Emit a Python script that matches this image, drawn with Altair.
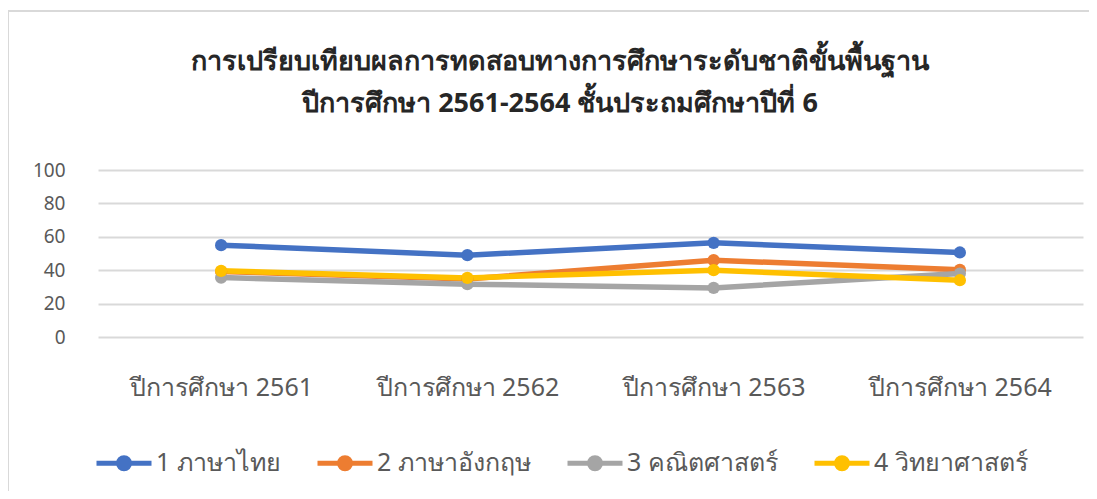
import altair as alt
import pandas as pd

years = ["ปีการศึกษา 2561", "ปีการศึกษา 2562", "ปีการศึกษา 2563", "ปีการศึกษา 2564"]
subjects = ["1 ภาษาไทย", "2 ภาษาอังกฤษ", "3 คณิตศาสตร์", "4 วิทยาศาสตร์"]
thai = [55.0, 49.0, 56.4, 50.6]
english = [39.2, 34.8, 46.0, 40.2]
math = [35.6, 31.6, 29.4, 38.0]
science = [39.6, 35.4, 40.0, 34.0]
colors = ["#4472C4", "#ED7D31", "#A5A5A5", "#FFC000"]
title_lines = ["การเปรียบเทียบผลการทดสอบทางการศึกษาระดับชาติขั้นพื้นฐาน",
               "ปีการศึกษา 2561-2564  ชั้นประถมศึกษาปีที่ 6"]

rows = []
for s, vals in zip(subjects, [thai, english, math, science]):
    for y, v in zip(years, vals):
        rows.append({"year": y, "subject": s, "score": v})
df = pd.DataFrame(rows)

FONT = "Noto Sans"
legend_path = ("M-1,0L1,0"
               "M0.2,0A0.2,0.2,0,1,1,-0.2,0A0.2,0.2,0,1,1,0.2,0Z"
               "M0.1,0A0.1,0.1,0,1,1,-0.1,0A0.1,0.1,0,1,1,0.1,0Z")

one = pd.DataFrame({"a": [0]})
frame_left = alt.Chart(one).mark_rule(color="#d9d9d9", strokeWidth=2).encode(
    x=alt.value(-90), y=alt.value(-159), y2=alt.value(400)
)
frame_top = alt.Chart(one).mark_rule(color="#d9d9d9", strokeWidth=2).encode(
    x=alt.value(-91), x2=alt.value(1100), y=alt.value(-159)
)

def title_text(line, yv):
    return alt.Chart(pd.DataFrame({"t": [line]})).mark_text(
        font=FONT, fontSize=27, fontWeight="bold", color="#262626",
        align="center", baseline="middle",
    ).encode(text="t:N", x=alt.value(462), y=alt.value(yv))

t1 = title_text(title_lines[0], -108)
t2 = title_text(title_lines[1], -66)

lines = alt.Chart(df).mark_line(
    strokeWidth=5.5,
    point=alt.OverlayMarkDef(filled=True, size=150, opacity=1),
).encode(
    x=alt.X("year:N", sort=years, title=None,
            axis=alt.Axis(labelAngle=0, domain=False, ticks=False, labelPadding=38,
                          labelLimit=0, labelFontSize=25, labelColor="#595959",
                          labelFont=FONT)),
    y=alt.Y("score:Q", title=None, scale=alt.Scale(domain=[0, 100]),
            axis=alt.Axis(values=[0, 20, 40, 60, 80, 100], domain=False, ticks=False,
                          labelPadding=33, labelFontSize=19, labelColor="#595959",
                          labelFont=FONT, gridColor="#d9d9d9", gridWidth=2)),
    color=alt.Color("subject:N", sort=subjects, title=None,
                    scale=alt.Scale(domain=subjects, range=colors),
                    legend=alt.Legend(orient="none", direction="horizontal",
                                      legendX=-4, legendY=263,
                                      symbolType=legend_path, symbolSize=3025,
                                      symbolStrokeWidth=5, labelFontSize=25,
                                      labelColor="#595959", labelFont=FONT,
                                      labelLimit=0, labelOffset=2, columnPadding=26)),
)

chart = alt.layer(frame_left, frame_top, t1, t2, lines).properties(
    width=985,
    height=167,
    autosize=alt.AutoSizeParams(type="none"),
    padding={"left": 90, "top": 162, "right": 6, "bottom": 154},
).configure_view(stroke=None)

chart.save("out.html", embed_options={"renderer": "svg", "actions": False})
